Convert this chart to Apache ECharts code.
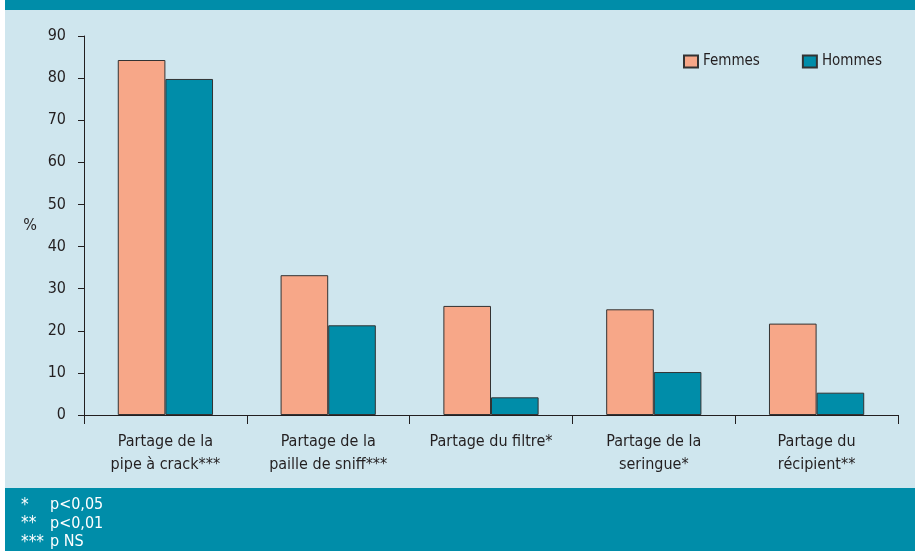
<!DOCTYPE html>
<html>
<head>
<meta charset="utf-8">
<style>
html,body{margin:0;padding:0;background:#ffffff;}
#chart{width:915px;height:551px;}
</style>
<script src="https://cdn.jsdelivr.net/npm/echarts@6/dist/echarts.min.js"></script>
</head>
<body>
<div id="chart"></div>
<script>
const categories = [
  'Partage de la\npipe à crack***',
  'Partage de la\npaille de sniff***',
  'Partage du filtre*',
  'Partage de la\nseringue*',
  'Partage du\nrécipient**'
];
const femmes = [84.3, 33.2, 25.9, 25.1, 21.7];
const hommes = [79.8, 21.3, 4.2, 10.2, 5.3];
const seriesNames = ['Femmes', 'Hommes'];
const yTicks = { min: 0, max: 90, interval: 10 };
const footnotes = ['*', '**', '***'];
const footnoteTexts = ['p<0,05', 'p<0,01', 'p NS'];

const FONT = '"DejaVu Sans Condensed", "Liberation Sans Narrow", sans-serif';
const TXT = '#231f20';
const TEAL = '#008da9';
const PINK = '#f7a788';
const LIGHT = '#cfe6ee';

const chart = echarts.init(document.getElementById('chart'), null, {renderer: 'canvas'});

const graphics = [
  {type: 'rect', shape: {x: 5, y: 0, width: 910, height: 10}, style: {fill: TEAL}, z: -10},
  {type: 'rect', shape: {x: 5, y: 10, width: 910, height: 478}, style: {fill: LIGHT}, z: -10},
  {type: 'rect', shape: {x: 5, y: 488, width: 910, height: 63}, style: {fill: TEAL}, z: -10}
];
footnotes.forEach((s, i) => {
  graphics.push({type: 'text', left: 21, top: 497 + i * 18.5,
    style: {text: s, fill: '#ffffff', font: '17px ' + FONT}});
  graphics.push({type: 'text', left: 50, top: 497 + i * 18.5,
    style: {text: footnoteTexts[i], fill: '#ffffff', font: '16px ' + FONT}});
});

chart.setOption({
  animation: false,
  textStyle: {fontFamily: FONT, color: TXT},
  graphic: graphics,
  legend: {
    left: 678, top: 49,
    itemWidth: 14, itemHeight: 12, itemGap: 42,
    icon: 'rect',
    textStyle: {fontSize: 15, color: TXT, fontFamily: FONT},
    data: seriesNames
  },
  grid: {left: 84, right: 17, top: 36, bottom: 136, containLabel: false},
  xAxis: {
    type: 'category',
    data: categories,
    axisLine: {lineStyle: {color: TXT, width: 1}},
    axisTick: {show: true, length: 9, interval: 0, lineStyle: {color: TXT}},
    axisLabel: {fontSize: 16, color: TXT, fontFamily: FONT, lineHeight: 23, margin: 15, interval: 0}
  },
  yAxis: {
    type: 'value',
    min: yTicks.min, max: yTicks.max, interval: yTicks.interval,
    name: '%', nameLocation: 'middle', nameRotate: 0, nameGap: 47,
    nameTextStyle: {fontSize: 16, color: TXT, fontFamily: FONT},
    axisLine: {show: true, lineStyle: {color: TXT, width: 1}},
    axisTick: {show: true, length: 6, lineStyle: {color: TXT}},
    axisLabel: {fontSize: 16, color: TXT, fontFamily: FONT, margin: 18},
    splitLine: {show: false}
  },
  series: [
    {name: seriesNames[0], type: 'bar', data: femmes, barGap: '0%', barCategoryGap: '41.5%',
     itemStyle: {color: PINK, borderColor: '#333333', borderWidth: 1}},
    {name: seriesNames[1], type: 'bar', data: hommes, barGap: '0%', barCategoryGap: '41.5%',
     itemStyle: {color: TEAL, borderColor: '#333333', borderWidth: 1}}
  ]
});
</script>
</body>
</html>
